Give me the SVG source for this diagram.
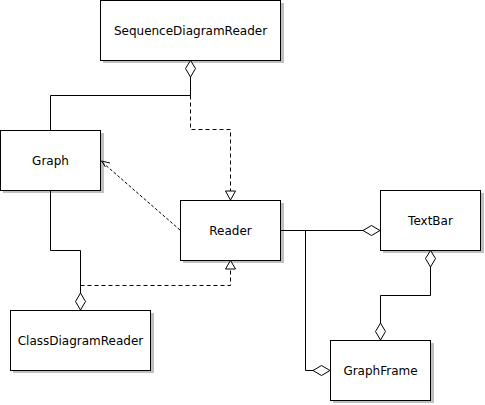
<svg xmlns="http://www.w3.org/2000/svg" width="485" height="405" viewBox="0 0 485 405">
<style>
.shadow{fill:#c0c0c0;stroke:none}
.box{fill:#fff;stroke:#000;stroke-width:1}
.lbl{font-family:"DejaVu Sans",sans-serif;font-size:12px;fill:#000;text-anchor:middle}
.ln{fill:none;stroke:#000;stroke-width:1}
.dash{fill:none;stroke:#000;stroke-width:1;stroke-dasharray:4,3}
.dot{fill:none;stroke:#000;stroke-width:1;stroke-dasharray:3,2}
.dia{fill:#fff;stroke:#000;stroke-width:1}
</style>
<rect width="485" height="405" fill="#fff"/>
<g id="SequenceDiagramReader">
  <rect class="shadow" x="103" y="3" width="181" height="60"/>
  <rect class="box" x="100.5" y="0.5" width="180" height="60"/>
  <text class="lbl" x="190.5" y="35">SequenceDiagramReader</text>
</g>
<g id="Graph">
  <rect class="shadow" x="3" y="133" width="101" height="60"/>
  <rect class="box" x="0.5" y="130.5" width="100" height="60"/>
  <text class="lbl" x="50.5" y="165">Graph</text>
</g>
<g id="Reader">
  <rect class="shadow" x="183" y="203" width="101" height="60"/>
  <rect class="box" x="180.5" y="200.5" width="100" height="60"/>
  <text class="lbl" x="230.5" y="235">Reader</text>
</g>
<g id="ClassDiagramReader">
  <rect class="shadow" x="13" y="313" width="141" height="60"/>
  <rect class="box" x="10.5" y="310.5" width="140" height="60"/>
  <text class="lbl" x="80.5" y="345">ClassDiagramReader</text>
</g>
<g id="TextBar">
  <rect class="shadow" x="383" y="193" width="101" height="60"/>
  <rect class="box" x="380.5" y="190.5" width="100" height="60"/>
  <text class="lbl" x="430.5" y="225">TextBar</text>
</g>
<g id="GraphFrame">
  <rect class="shadow" x="333" y="343" width="101" height="60"/>
  <rect class="box" x="330.5" y="340.5" width="100" height="60"/>
  <text class="lbl" x="380.5" y="375">GraphFrame</text>
</g>
<g id="connectors">
  <polyline class="ln" points="50.5,130 50.5,95.5 190.5,95.5 190.5,77"/>
  <polygon class="dia" points="190.5,60.5 195.5,68.5 190.5,77 185.5,68.5"/>
  <polyline class="dash" points="190.5,95.5 190.5,129.5 230.5,129.5 230.5,191"/>
  <polygon class="dia" points="225.5,191 235.5,191 230.5,200"/>
  <line class="dot" x1="180" y1="230" x2="102" y2="162"/>
  <polyline class="ln" points="110,163 101.5,161 105.5,167"/>
  <polyline class="ln" points="50.5,190 50.5,250.5 80.5,250.5 80.5,293"/>
  <polygon class="dia" points="80.5,293 85.5,301.5 80.5,310 75.5,301.5"/>
  <polyline class="dash" points="80.5,285.5 230.5,285.5 230.5,269"/>
  <polygon class="dia" points="225.5,269 235.5,269 230.5,260.5"/>
  <polyline class="ln" points="281,230.5 363,230.5"/>
  <polygon class="dia" points="363,230.5 371.5,225.5 380,230.5 371.5,235.5"/>
  <polyline class="ln" points="305.5,230.5 305.5,370.5 313,370.5"/>
  <polygon class="dia" points="313,370.5 321.5,365.5 330,370.5 321.5,375.5"/>
  <polyline class="ln" points="430.5,267 430.5,295.5 380.5,295.5 380.5,323"/>
  <polygon class="dia" points="430.5,250.5 435.5,258.5 430.5,267 425.5,258.5"/>
  <polygon class="dia" points="380.5,323 385.5,331.5 380.5,340 375.5,331.5"/>
</g>
</svg>
